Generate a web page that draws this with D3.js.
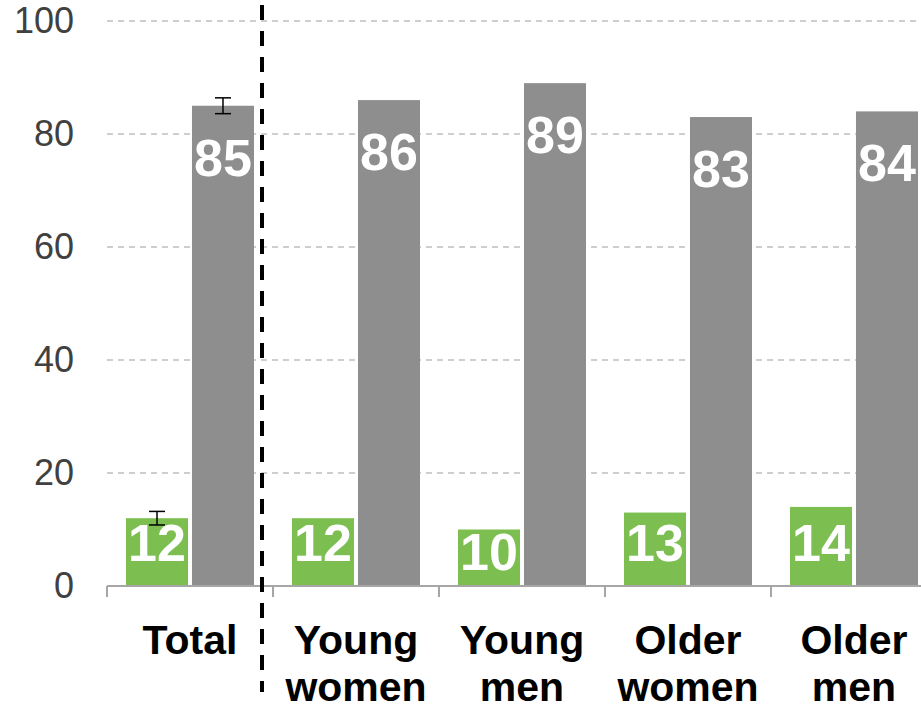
<!DOCTYPE html>
<html>
<head>
<meta charset="utf-8">
<script src="https://cdn.jsdelivr.net/npm/d3@7"></script>
<style>
  html, body { margin: 0; padding: 0; background: #fff; overflow: hidden; }
  svg { display: block; font-family: Arial, "Liberation Sans", sans-serif; }
</style>
</head>
<body>
<div id="chart"></div>
<script>
const categories = ["Total", "Young women", "Young men", "Older women", "Older men"];
const series = ["green", "grey"];
const greenValues = [12, 12, 10, 13, 14];
const greyValues = [85, 86, 89, 83, 84];
// error bars only on the Total group
const totalErrors = [1.2, 1.4];
const yTicks = [0, 20, 40, 60, 80, 100];

const colors = { green: "#7cbf50", grey: "#8e8e8e" };

const width = 921;
const height = 708;
const margin = { top: 21, left: 107, bottom: 122 };

const svg = d3.select("#chart").append("svg")
  .attr("width", width)
  .attr("height", height);

const x = d3.scaleBand()
  .domain(categories)
  .range([margin.left, margin.left + 166 * categories.length]);

const sub = d3.scaleBand()
  .domain(series)
  .range([19, 147])
  .paddingInner(0.06);

const y = d3.scaleLinear()
  .domain([0, 100])
  .range([height - margin.bottom, margin.top]);

// gridlines
svg.append("g")
  .selectAll("line")
  .data(yTicks.filter(d => d > 0))
  .join("line")
    .attr("x1", margin.left)
    .attr("x2", width)
    .attr("y1", d => y(d))
    .attr("y2", d => y(d))
    .style("stroke", "#bfbfbf")
    .style("stroke-width", 1.5)
    .style("stroke-dasharray", "6,5");

// y axis labels
const yAxis = svg.append("g")
  .attr("transform", `translate(${margin.left}, 0)`)
  .call(d3.axisLeft(y).tickValues(yTicks).tickSize(0).tickPadding(33));

yAxis.select(".domain").remove();
yAxis.selectAll("text")
  .style("font-size", "36px")
  .style("font-family", "Arial, 'Liberation Sans', sans-serif")
  .style("fill", "#404040");

const rows = categories.map((c, i) => ({
  cat: c,
  values: [
    { key: "green", value: greenValues[i] },
    { key: "grey", value: greyValues[i] }
  ]
}));

const groups = svg.append("g")
  .selectAll("g")
  .data(rows)
  .join("g")
    .attr("transform", d => `translate(${x(d.cat)}, 0)`);

groups.selectAll("rect")
  .data(d => d.values)
  .join("rect")
    .attr("x", d => sub(d.key))
    .attr("width", sub.bandwidth())
    .attr("y", d => y(d.value))
    .attr("height", d => y(0) - y(d.value))
    .style("fill", d => colors[d.key]);

// x axis line + ticks
const xAxis = svg.append("g")
  .attr("transform", `translate(0, ${y(0)})`);

xAxis.append("line")
  .attr("x1", margin.left)
  .attr("x2", width)
  .style("stroke", "#a6a6a6")
  .style("stroke-width", 2);

xAxis.selectAll(".tick")
  .data(categories)
  .join("line")
    .attr("class", "tick")
    .attr("x1", d => x(d))
    .attr("x2", d => x(d))
    .attr("y1", 0)
    .attr("y2", 11)
    .style("stroke", "#a6a6a6")
    .style("stroke-width", 2);

// error bars (Total)
const errData = series.map((k, i) => ({
  key: k,
  value: k === "green" ? greenValues[0] : greyValues[0],
  err: totalErrors[i]
}));

const errG = svg.append("g")
  .attr("transform", `translate(${x(categories[0])}, 0)`)
  .selectAll("g")
  .data(errData)
  .join("g")
    .attr("transform", d => `translate(${sub(d.key) + sub.bandwidth() / 2}, 0)`)
    .style("stroke", "#000")
    .style("stroke-width", 1.5);

errG.append("line")
  .attr("y1", d => y(d.value - d.err))
  .attr("y2", d => y(d.value + d.err));

errG.selectAll(".cap")
  .data(d => [d.value - d.err, d.value + d.err])
  .join("line")
    .attr("class", "cap")
    .attr("x1", -8)
    .attr("x2", 8)
    .attr("y1", d => y(d))
    .attr("y2", d => y(d));

// value labels
groups.selectAll("text.val")
  .data(d => d.values)
  .join("text")
    .attr("class", "val")
    .attr("x", d => sub(d.key) + sub.bandwidth() / 2)
    .attr("y", d => d.key === "grey"
      ? y(d.value) + 70
      : Math.max(y(d.value) + 40, y(0) - 25))
    .attr("text-anchor", "middle")
    .style("font-size", "52px")
    .style("font-weight", "bold")
    .style("fill", "#fff")
    .text(d => d.value);

// category labels
const catLabels = svg.append("g")
  .selectAll("text")
  .data(categories)
  .join("text")
    .attr("x", d => x(d) + x.bandwidth() / 2)
    .attr("y", 654)
    .attr("text-anchor", "middle")
    .style("font-size", "41px")
    .style("font-weight", "bold")
    .style("fill", "#000");

catLabels.selectAll("tspan")
  .data(d => d.split(" "))
  .join("tspan")
    .attr("x", function () { return d3.select(this.parentNode).attr("x"); })
    .attr("dy", (d, i) => i === 0 ? 0 : 47)
    .text(d => d);

// divider between Total and the subgroups
svg.append("line")
  .attr("x1", x(categories[1]) - 11)
  .attr("x2", x(categories[1]) - 11)
  .attr("y1", 5)
  .attr("y2", 692)
  .style("stroke", "#000")
  .style("stroke-width", 4)
  .style("stroke-dasharray", "15,11");
</script>
</body>
</html>
